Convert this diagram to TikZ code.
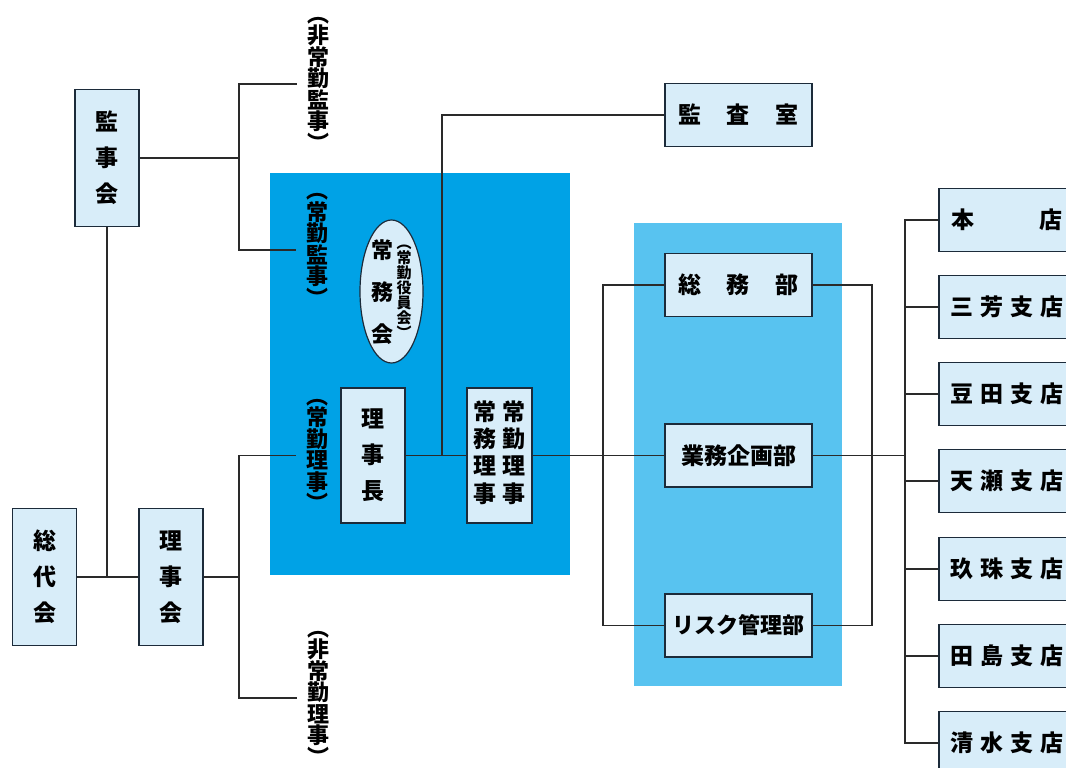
\documentclass[tikz,border=0pt]{standalone}
\usepackage{fontspec}
\newfontfamily\jp{Noto Sans CJK JP}
\usetikzlibrary{shapes.geometric}
\definecolor{deepblue}{HTML}{00A2E6}
\definecolor{paleblue}{HTML}{58C3F0}
\definecolor{boxfill}{HTML}{D8EDF9}
\definecolor{boxline}{HTML}{1C2B3A}
\definecolor{linecol}{HTML}{2A2A2A}
\tikzset{
  unit/.style={draw=boxline, fill=boxfill, line width=1.6pt, inner sep=0pt, align=center,
    font=\jp\bfseries\fontsize{23}{36}\selectfont},
  tallbox/.style={unit, minimum width=64pt, minimum height=137pt},
  widebox/.style={unit, minimum width=147pt, minimum height=63pt},
  shopbox/.style={unit, minimum width=136pt, minimum height=63pt},
  tate/.style={inner ysep=0pt, inner xsep=10pt, align=center,
    font=\jp\bfseries\fontsize{22}{21.5}\selectfont},
  wire/.style={draw=linecol, line width=1.5pt},
}
\newcommand\brgap{\hspace{7pt}}
\begin{document}
\begin{tikzpicture}[x=1pt,y=-1pt]
\path[use as bounding box, fill=white] (0,0) rectangle (1066,768);
\clip (0,0) rectangle (1066,768);
% panels
\fill[deepblue] (270,173) rectangle (570,575);
\fill[paleblue] (634,223) rectangle (842,686);

% left side
\node[tallbox] (kanjikai) at (107,158) {監\\事\\会};
\node[tallbox] (sodaikai) at (44.5,577) {総\\代\\会};
\node[tallbox] (rijikai) at (171,577) {理\\事\\会};
\node[tate] (hkanji) at (318,84) {︵\\非\\常\\勤\\監\\事\\︶};
\node[tate] (jkanji) at (317,250) {︵\\常\\勤\\監\\事\\︶};
\node[tate] (jriji) at (317,455.5) {︵\\常\\勤\\理\\事\\︶};
\node[tate] (hriji) at (318,698) {︵\\非\\常\\勤\\理\\事\\︶};

% officers
\node[ellipse, draw=boxline, fill=boxfill, line width=1.2pt, inner sep=0pt,
  minimum width=63pt, minimum height=143pt] (jomukai) at (391.5,291.5) {};
\node[inner sep=0pt, align=center, font=\jp\bfseries\fontsize{22}{42}\selectfont]
  (jomukaitxt) at (382,292) {常\\務\\会};
\node[inner sep=0pt, align=center, font=\jp\bfseries\fontsize{15}{15}\selectfont]
  (yakuintxt) at (404,292) {︵\\常\\勤\\役\\員\\会\\︶};
\node[unit, minimum width=64pt, minimum height=135pt] (rijicho) at (373,455.5) {理\\事\\長};
\node[unit, minimum width=65pt, minimum height=135pt, font=\jp\bfseries\fontsize{23}{27}\selectfont]
  (jomuriji) at (499.5,455.5)
  {\begin{tabular}{@{}c@{\hspace{7pt}}c@{}}常&常\\務&勤\\理&理\\事&事\end{tabular}};

% departments
\node[widebox] (kansa) at (738.5,115) {監\hspace{26pt}査\hspace{26pt}室};
\node[widebox] (somu) at (738.5,285) {総\hspace{26pt}務\hspace{26pt}部};
\node[widebox] (kikaku) at (738.5,455.5) {業務企画部};
\node[widebox, font=\jp\bfseries\fontsize{22}{22}\selectfont] (risk) at (738.5,625.5) {リスク管理部};

% branches
\node[shopbox] (honten) at (1007,220) {本\hspace{65pt}店};
\node[shopbox] (miyoshi) at (1007,307) {三\brgap 芳\brgap 支\brgap 店};
\node[shopbox] (mameda) at (1007,394) {豆\brgap 田\brgap 支\brgap 店};
\node[shopbox] (amase) at (1007,481) {天\brgap 瀬\brgap 支\brgap 店};
\node[shopbox] (kusu) at (1007,569) {玖\brgap 珠\brgap 支\brgap 店};
\node[shopbox] (tajima) at (1007,656) {田\brgap 島\brgap 支\brgap 店};
\node[shopbox] (shimizu) at (1007,743) {清\brgap 水\brgap 支\brgap 店};

% connectors
\coordinate (kbus) at (239,158);
\draw[wire] (kanjikai.east) -- (kbus);
\draw[wire] (hkanji.west) -| (kbus) |- (jkanji.west);
\draw[wire] (kanjikai.south) -- (kanjikai.south |- sodaikai.east);
\draw[wire] (sodaikai.east) -- (rijikai.west);
\coordinate (rbus) at (239,577);
\draw[wire] (rijikai.east) -- (rbus);
\draw[wire] (jriji.west) -| (rbus) |- (hriji.west);
\draw[wire] (rijicho.east) -- (jomuriji.west);
\coordinate (kfork) at (442,455.5);
\draw[wire] (kfork) |- (kansa.west);
\draw[wire] (jomuriji.east) -- (kikaku.west);
\coordinate (dbus) at (603,455.5);
\draw[wire] (somu.west) -| (dbus) |- (risk.west);
\coordinate (ebus) at (872,455.5);
\draw[wire] (somu.east) -| (ebus) |- (risk.east);
\coordinate (sbus) at (905,455.5);
\draw[wire] (kikaku.east) -- (sbus);
\draw[wire] (honten.west) -| (sbus) |- (shimizu.west);
\draw[wire] (sbus |- miyoshi.west) -- (miyoshi.west);
\draw[wire] (sbus |- mameda.west) -- (mameda.west);
\draw[wire] (sbus |- amase.west) -- (amase.west);
\draw[wire] (sbus |- kusu.west) -- (kusu.west);
\draw[wire] (sbus |- tajima.west) -- (tajima.west);
\end{tikzpicture}
\end{document}
